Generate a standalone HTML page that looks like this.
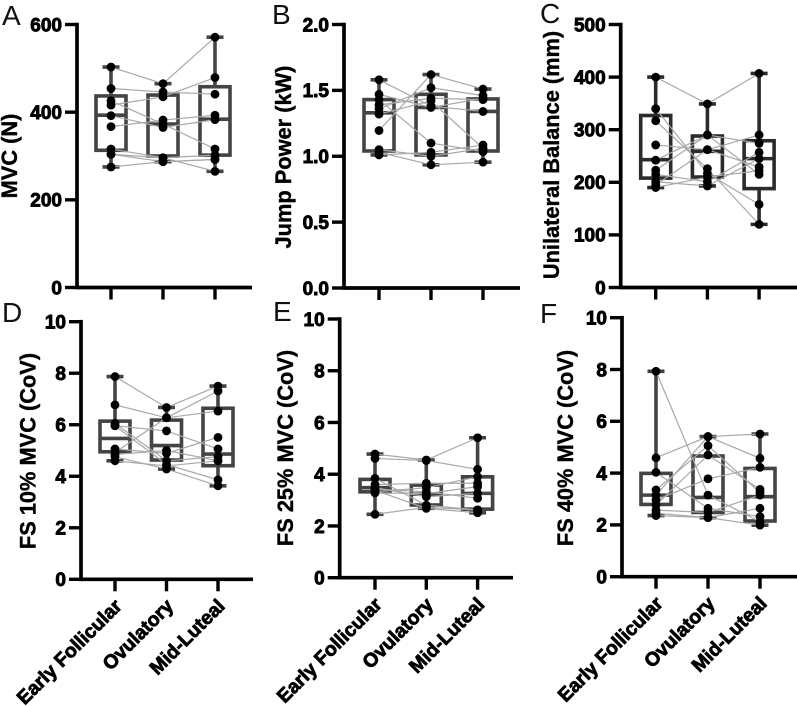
<!DOCTYPE html>
<html lang="en">
<head>
<meta charset="utf-8">
<title>Neuromuscular measures across menstrual cycle phases</title>
<style>
html,body{margin:0;padding:0;background:#fff;width:797px;height:706px;overflow:hidden}
svg{display:block}
text{font-family:"Liberation Sans",Arial,sans-serif}
.tick{font-size:19px;font-weight:700;stroke:#000;stroke-width:.9px}
.title{font-size:21.8px;font-weight:700;stroke:#000;stroke-width:.4px}
.cat{font-size:19.4px;font-weight:700;stroke:#000;stroke-width:.8px}
.letter{font-size:28px;font-weight:400}
</style>
</head>
<body>
<svg id="figure" width="797" height="706" viewBox="0 0 797 706" xmlns="http://www.w3.org/2000/svg"></svg>
<script>
const categories = ["Early Follicular", "Ovulatory", "Mid-Luteal"];

const ticksA = [0, 200, 400, 600];
const earlyA = [503, 454, 416, 426, 392, 367, 316, 304, 304, 275];
const ovulatoryA = [465, 446, 435, 373, 365, 382, 296, 296, 287, 287];
const lutealA = [571, 441, 479, 316, 383, 393, 265, 302, 292, 292];
const lowerA = [313, 300, 302];
const medianA = [393, 373, 384];
const upperA = [437, 439, 458];

const ticksB = ["0.0", "0.5", "1.0", "1.5", "2.0"];
const earlyB = [1.58, 1.47, 1.43, 1.39, 1.36, 1.32, 1.195, 1.05, 1.03, 1.01];
const ovulatoryB = [1.38, 1.37, 1.10, 1.44, 1.52, 1.42, 1.62, 1.00, 0.935, 1.03];
const lutealB = [1.34, 1.44, 1.035, 1.43, 1.46, 1.06, 1.51, 1.06, 0.955, 1.085];
const lowerB = [1.04, 1.01, 1.04];
const medianB = [1.33, 1.37, 1.34];
const upperB = [1.43, 1.47, 1.435];

const ticksC = [0, 100, 200, 300, 400, 500];
const earlyC = [400, 340, 317, 271, 242, 223, 215, 201, 195, 190];
const ovulatoryC = [349, 217, 226, 262, 290, 290, 201, 193, 262, 210];
const lutealC = [407, 158, 120, 229, 274, 215, 257, 245, 290, 222];
const lowerC = [208, 210, 188];
const medianC = [243, 259, 245];
const upperC = [327, 288, 279];

const ticksD = [0, 2, 4, 6, 8, 10];
const earlyD = [7.87, 6.77, 4.93, 6.05, 5.96, 5.96, 5.06, 4.85, 4.76, 4.6];
const ovulatoryD = [6.67, 6.27, 6.27, 4.6, 5.76, 4.46, 4.89, 5.0, 4.28, 4.4];
const lutealD = [7.5, 6.53, 7.31, 4.76, 5.06, 3.86, 5.51, 4.6, 3.63, 4.6];
const lowerD = [4.95, 4.63, 4.41];
const medianD = [5.47, 5.19, 4.86];
const upperD = [6.14, 6.18, 6.64];

const ticksE = [0, 2, 4, 6, 8, 10];
const earlyE = [4.78, 4.61, 3.84, 3.6, 3.48, 3.42, 3.38, 3.32, 3.28, 2.45];
const ovulatoryE = [4.55, 4.53, 2.8, 3.65, 3.13, 3.32, 2.68, 3.48, 3.25, 2.72];
const lutealE = [5.41, 4.19, 2.62, 3.65, 3.26, 3.07, 2.51, 3.9, 3.52, 2.62];
const lowerE = [3.32, 2.81, 2.65];
const medianE = [3.48, 3.23, 3.26];
const upperE = [3.8, 3.58, 3.9];

const ticksF = [0, 2, 4, 6, 8, 10];
const earlyF = [7.93, 4.59, 4.03, 3.35, 3.15, 2.96, 2.77, 2.57, 2.45, 2.36];
const ovulatoryF = [3.15, 5.41, 2.64, 5.06, 5.41, 3.78, 4.7, 2.48, 2.28, 2.28];
const lutealF = [2.12, 4.57, 2.32, 3.25, 5.51, 4.22, 3.37, 3.15, 1.99, 2.64];
const lowerF = [2.79, 2.48, 2.15];
const medianF = [3.15, 3.06, 3.09];
const upperF = [3.99, 4.66, 4.18];

const svg = document.getElementById('figure');
const NS = 'http://www.w3.org/2000/svg';

function make(tag, parent, attrs, content) {
  const el = document.createElementNS(NS, tag);
  for (const k in attrs) el.setAttribute(k, attrs[k]);
  if (content !== undefined) el.textContent = content;
  parent.appendChild(el);
  return el;
}

function drawPanel(cfg) {
  const yMax = cfg.max;
  const yScale = v => cfg.zero + (cfg.top - cfg.zero) * (Number(v) / yMax);
  const xScale = i => cfg.x0 + i * cfg.step;
  const series = [cfg.early, cfg.ovulatory, cfg.luteal];
  const boxColor = cfg.color;

  const g = make('g', svg, {});
  
  

  const letter = make('text', g, {x: cfg.letterX, y: cfg.letterY, class: 'letter', fill: '#111'}, cfg.letter);
  
  

  const title = make('text', g, {
    class: 'title', 'text-anchor': 'middle',
    transform: 'translate(' + cfg.titleX + ',' + cfg.titleY + ') rotate(-90)'
  }, cfg.title);
  
  

  // boxes and whiskers
  categories.forEach((c, i) => {
    const cx = xScale(i);
    const vals = series[i];
    const lo = Math.min.apply(null, vals);
    const hi = Math.max.apply(null, vals);
    const boxW = 30;

    const whisker = make('line', g, {x1: cx, x2: cx, y1: yScale(lo), y2: yScale(hi), stroke: boxColor, 'stroke-width': 3.6});
    
    

    [lo, hi].forEach(v => {
      const cap = make('line', g, {x1: cx - 8.5, x2: cx + 8.5, y1: yScale(v), y2: yScale(v), stroke: boxColor, 'stroke-width': 3.6});
      
      
    });

    const box = make('rect', g, {
      x: cx - boxW / 2, width: boxW,
      y: yScale(cfg.upper[i]),
      height: yScale(cfg.lower[i]) - yScale(cfg.upper[i]),
      fill: '#fff', stroke: boxColor, 'stroke-width': 3.6
    });
    
    

    const med = make('line', g, {x1: cx - boxW / 2, x2: cx + boxW / 2, y1: yScale(cfg.median[i]), y2: yScale(cfg.median[i]), stroke: boxColor, 'stroke-width': 3.6});
    
    
  });

  // paired participant lines
  cfg.early.forEach((v, s) => {
    const pts = series.map((arr, i) => xScale(i) + ',' + yScale(arr[s])).join(' ');
    const line = make('polyline', g, {points: pts, fill: 'none', stroke: '#a8a8a8', 'stroke-width': 1.2});
    
    
  });

  series.forEach((arr, i) => {
    arr.forEach(v => {
      const dot = make('circle', g, {cx: xScale(i), cy: yScale(v), r: 4.4, fill: '#000'});
      
      
    });
  });

  // axes
  const yAxis = make('line', g, {x1: cfg.axisX, x2: cfg.axisX, y1: cfg.top - 1.8, y2: cfg.zero + 1.8, stroke: '#000', 'stroke-width': 3.7});
  
  

  const xAxis = make('line', g, {x1: cfg.axisX, x2: cfg.endX, y1: cfg.zero, y2: cfg.zero, stroke: '#000', 'stroke-width': 3.7});
  
  

  cfg.ticks.forEach(t => {
    const y = yScale(t);
    const tick = make('line', g, {x1: cfg.axisX - 12, x2: cfg.axisX, y1: y, y2: y, stroke: '#000', 'stroke-width': 3.4});
    
    

    const label = make('text', g, {x: cfg.axisX - 15, y: y + 6.8, class: 'tick', 'text-anchor': 'end'}, String(t));
    
    
  });

  categories.forEach((c, i) => {
    const cx = xScale(i);
    const tick = make('line', g, {x1: cx, x2: cx, y1: cfg.zero, y2: cfg.zero + 12, stroke: '#000', 'stroke-width': 3.4});
    
    

    if (cfg.showCategories) {
      const label = make('text', g, {
        class: 'cat', 'text-anchor': 'end',
        transform: 'translate(' + (cx + 8) + ',' + (cfg.zero + 28) + ') rotate(-45)'
      }, c);
      
      
    }
  });
}

drawPanel({id:'a', letter:'A', letterX:2, letterY:25, title:'MVC (N)', titleX:17, titleY:156,
  axisX:77, endX:252, top:24.5, zero:287.5, x0:111, step:52, max:600, color:'#444', showCategories:false,
  ticks:ticksA, early:earlyA, ovulatory:ovulatoryA, luteal:lutealA, lower:lowerA, median:medianA, upper:upperA});
drawPanel({id:'b', letter:'B', letterX:272, letterY:24, title:'Jump Power (kW)', titleX:291, titleY:157,
  axisX:344, endX:520, top:24.5, zero:288, x0:379, step:52, max:2, color:'#444', showCategories:false,
  ticks:ticksB, early:earlyB, ovulatory:ovulatoryB, luteal:lutealB, lower:lowerB, median:medianB, upper:upperB});
drawPanel({id:'c', letter:'C', letterX:540, letterY:23, title:'Unilateral Balance (mm)', titleX:559, titleY:155,
  axisX:620.7, endX:797, top:24.5, zero:287.5, x0:655.7, step:51.7, max:500, color:'#2b2b2b', showCategories:false,
  ticks:ticksC, early:earlyC, ovulatory:ovulatoryC, luteal:lutealC, lower:lowerC, median:medianC, upper:upperC});
drawPanel({id:'d', letter:'D', letterX:2, letterY:322, title:'FS 10% MVC (CoV)', titleX:35.5, titleY:451,
  axisX:81, endX:253, top:321.7, zero:579.3, x0:115, step:51.5, max:10, color:'#444', showCategories:true,
  ticks:ticksD, early:earlyD, ovulatory:ovulatoryD, luteal:lutealD, lower:lowerD, median:medianD, upper:upperD});
drawPanel({id:'e', letter:'E', letterX:273, letterY:321, title:'FS 25% MVC (CoV)', titleX:293, titleY:448,
  axisX:339.7, endX:513, top:319, zero:577.7, x0:375, step:51.3, max:10, color:'#444', showCategories:true,
  ticks:ticksE, early:earlyE, ovulatory:ovulatoryE, luteal:lutealE, lower:lowerE, median:medianE, upper:upperE});
drawPanel({id:'f', letter:'F', letterX:540, letterY:323, title:'FS 40% MVC (CoV)', titleX:573, titleY:448,
  axisX:622, endX:797, top:317.7, zero:576.7, x0:656, step:52, max:10, color:'#444', showCategories:true,
  ticks:ticksF, early:earlyF, ovulatory:ovulatoryF, luteal:lutealF, lower:lowerF, median:medianF, upper:upperF});
</script>
</body>
</html>
